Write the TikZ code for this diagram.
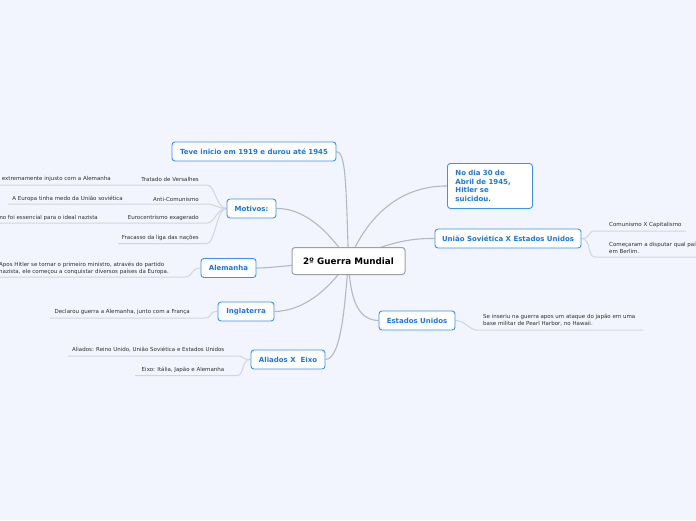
\documentclass[tikz,border=0pt]{standalone}
\usepackage{fontspec}
\setmainfont{DejaVu Sans}
\usetikzlibrary{backgrounds,calc}
\definecolor{bgblue}{HTML}{F2F5FD}
\definecolor{topicblue}{HTML}{1C78DE}
\definecolor{topicline}{HTML}{3A93F0}
\definecolor{linegray}{HTML}{B6B8C0}
\definecolor{leafline}{HTML}{D2D5DD}
\definecolor{leaftext}{HTML}{2E2E2E}

\begin{document}
\begin{tikzpicture}[x=1pt,y=-1pt,
  root/.style={draw=gray!75,line width=1pt,rounded corners=3pt,fill=white,font=\fontsize{8.8}{10}\selectfont\bfseries,minimum width=113pt,minimum height=27pt},
  topic/.style={draw=topicline,line width=0.9pt,rounded corners=3pt,fill=white,text=topicblue,font=\fontsize{7}{8.5}\selectfont\bfseries,minimum height=19pt,inner xsep=2pt},
  leaf/.style={text=leaftext,font=\fontsize{5.5}{6.8}\selectfont,inner sep=0pt,align=left},
  conn/.style={draw=linegray,line width=1.1pt},
  uline/.style={draw=leafline,line width=1pt}]
\useasboundingbox (0,0) rectangle (696,520);

% main topics
\node[root] (root) at (348.5,261) {2º Guerra Mundial};
\node[topic,minimum width=164pt] (teve) at (254,151.5) {Teve inicio em 1919 e durou até 1945};
\node[topic,minimum width=49pt] (mot) at (251.5,208.5) {Motivos:};
\node[topic,minimum width=55pt] (ale) at (228.5,268) {Alemanha};
\node[topic,minimum width=56pt] (ing) at (246,311.5) {Inglaterra};
\node[topic,minimum width=74pt] (ali) at (288,359.5) {Aliados X\ \ Eixo};
\node[topic,anchor=north west,text width=69pt,inner xsep=8pt,minimum height=45pt,align=left,font=\fontsize{7}{8.6}\selectfont\bfseries] (nodia) at (447,163) {No dia 30 de\\Abril de 1945,\\Hitler se\\suicidou.};
\node[topic,minimum width=146pt] (uniao) at (508,238.5) {União Soviética X Estados Unidos};
\node[topic,minimum width=76pt] (eua) at (417,320.5) {Estados Unidos};

% leaves
\node[leaf,anchor=east] (trat) at (199,179) {Tratado de Versalhes};
\node[leaf,anchor=east] (tratA) at (111,179) {extremamente injusto com a Alemanha};
\node[leaf,anchor=east] (anti) at (199,199) {Anti-Comunismo};
\node[leaf,anchor=east] (antiA) at (123,199) {A Europa tinha medo da União soviética};
\node[leaf,anchor=east] (euro) at (199,217.5) {Eurocentrismo exagerado};
\node[leaf,anchor=east] (euroA) at (98,217.5) {mo foi essencial para o ideal nazista};
\node[leaf,anchor=east] (frac) at (199,238) {Fracasso da liga das nações};
\node[leaf,anchor=west] (aleA) at (-1,268) {Apos Hitler se tornar o primeiro ministro, através do partido\\nazista, ele começou a conquistar diversos países da Europa.};
\node[leaf,anchor=east] (ingA) at (190,312) {Declarou guerra a Alemanha, junto com a França};
\node[leaf,anchor=east] (aliA) at (224.5,349.7) {Aliados: Reino Unido, União Soviética e Estados Unidos};
\node[leaf,anchor=east] (aliB) at (224.5,369.5) {Eixo: Itália, Japão e Alemanha};
\node[leaf,anchor=west] (uniA) at (609,225) {Comunismo X Capitalismo};
\node[leaf,anchor=west] (uniB) at (609,247.7) {Começaram a disputar qual país\\em Berlim.};
\node[leaf,anchor=west] (euaA) at (483,320.5) {Se inseriu na guerra apos um ataque do japão em uma\\base militar de Pearl Harbor, no Hawaii.};

% underline ends
\coordinate (tratU) at (207,185); \coordinate (tratE) at (-2,185);
\coordinate (antiU) at (207,204); \coordinate (antiE) at (8,204);
\coordinate (euroU) at (207,223); \coordinate (euroE) at (-2,223);
\coordinate (fracU) at (207,243.5); \coordinate (fracE) at (118,243.5);
\coordinate (aleU) at (185,277); \coordinate (aleE) at (-2,277);
\coordinate (ingU) at (205,318); \coordinate (ingE) at (50,318);
\coordinate (aliU) at (237,356); \coordinate (aliE) at (68,356);
\coordinate (aliV) at (237,375.5); \coordinate (aliF) at (135,375.5);
\coordinate (uniU) at (595,231); \coordinate (uniE) at (686,231);
\coordinate (uniV) at (595,257); \coordinate (uniF) at (698,257);
\coordinate (euaU) at (477,330); \coordinate (euaE) at (643,330);

\begin{scope}[on background layer]
\fill[bgblue] (0,0) rectangle (696,520);
% branches from the root
\draw[conn] (root.center) .. controls (346,185) and (346,152) .. (teve.east);
\draw[conn] (root.center) .. controls (325,225) and (300,208) .. (mot.east);
\draw[conn] (root.center) .. controls (305,263) and (275,268) .. (ale.east);
\draw[conn] (root.center) .. controls (325,295) and (300,311) .. (ing.east);
\draw[conn] (root.center) .. controls (345,300) and (342,359) .. (ali.east);
\draw[conn] (root.center) .. controls (368,215) and (400,186) .. (nodia.west);
\draw[conn] (root.center) .. controls (385,243) and (410,238) .. (uniao.west);
\draw[conn] (root.center) .. controls (350,300) and (358,320) .. (eua.west);
% leaf underlines
\foreach \u/\e/\p in {tratU/tratE/mot,antiU/antiE/mot,euroU/euroE/mot,fracU/fracE/mot,aleU/aleE/ale,ingU/ingE/ing,aliU/aliE/ali,aliV/aliF/ali}
  \draw[uline] (\p.west) .. controls ($(\p.west)+(-10,0)$) and ($(\u)+(8,0)$) .. (\u) -- (\e);
\foreach \u/\e/\p in {uniU/uniE/uniao,uniV/uniF/uniao,euaU/euaE/eua}
  \draw[uline] (\p.east) .. controls ($(\p.east)+(10,0)$) and ($(\u)+(-8,0)$) .. (\u) -- (\e);
\end{scope}
\end{tikzpicture}
\end{document}
